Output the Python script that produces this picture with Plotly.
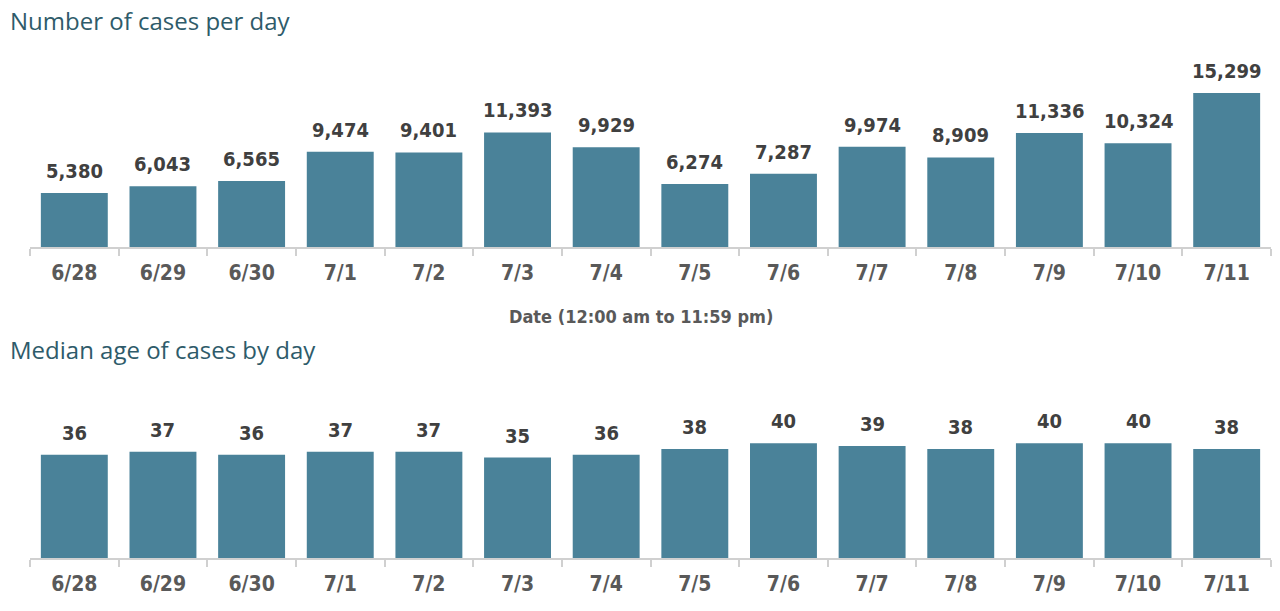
import plotly.graph_objects as go

dates = ["6/28", "6/29", "6/30", "7/1", "7/2", "7/3", "7/4", "7/5", "7/6", "7/7", "7/8", "7/9", "7/10", "7/11"]
cases = [5380, 6043, 6565, 9474, 9401, 11393, 9929, 6274, 7287, 9974, 8909, 11336, 10324, 15299]
median_age = [36, 37, 36, 37, 37, 35, 36, 38, 40, 39, 38, 40, 40, 38]

BAR = "#4A8299"
FONT = "DejaVu Sans Condensed, Roboto, sans-serif"
W, H = 1280, 611

def px_x(v):
    return v / W

def py(v):
    return 1 - v / H

fig = go.Figure()
fig.add_trace(go.Bar(x=dates, y=cases, marker=dict(color=BAR, line=dict(width=0)),
                     xaxis="x", yaxis="y", hoverinfo="skip"))
fig.add_trace(go.Bar(x=dates, y=median_age, marker=dict(color=BAR, line=dict(width=0)),
                     xaxis="x2", yaxis="y2", hoverinfo="skip"))

label_font = dict(family=FONT, size=20, color="#404040", weight="bold")
annotations = []
for d, v in zip(dates, cases):
    annotations.append(dict(x=d, y=v, xref="x", yref="y", text=f"{v:,}", showarrow=False,
                            yanchor="middle", yshift=22, font=label_font))
for d, v in zip(dates, median_age):
    annotations.append(dict(x=d, y=v, xref="x2", yref="y2", text=str(v), showarrow=False,
                            yanchor="middle", yshift=22, font=label_font))

xcommon = dict(
    type="category", domain=[px_x(30), px_x(1271)], showline=True, linecolor="#D0D0D0", linewidth=1.5,
    ticks="outside", tickson="boundaries", ticklen=7, tickcolor="#D0D0D0", tickwidth=1.5,
    tickfont=dict(family=FONT, size=21, color="#595959", weight="bold"),
    ticklabelstandoff=6, showgrid=False, zeroline=False, fixedrange=True)
ycommon = dict(visible=False, showgrid=False, zeroline=False, fixedrange=True)

annotations += [
    dict(text="Number of cases per day", x=px_x(8), y=py(20), xref="paper", yref="paper",
         xanchor="left", yanchor="middle", showarrow=False,
         font=dict(family="Open Sans", size=24, color="#2E5B6A")),
    dict(text="Median age of cases by day", x=px_x(8), y=py(349), xref="paper", yref="paper",
         xanchor="left", yanchor="middle", showarrow=False,
         font=dict(family="Open Sans", size=24, color="#2E5B6A")),
    dict(text="Date (12:00 am to 11:59 pm)", x=px_x(641), y=py(316), xref="paper", yref="paper",
         xanchor="center", yanchor="middle", showarrow=False,
         font=dict(family=FONT, size=18, color="#595959", weight="bold")),
]

fig.update_layout(
    width=W, height=H, margin=dict(l=0, r=0, t=0, b=0),
    paper_bgcolor="white", plot_bgcolor="white", showlegend=False,
    bargap=0.245,
    xaxis=dict(**xcommon, anchor="y"),
    yaxis=dict(**ycommon, domain=[py(247), py(76)], range=[0, 17000]),
    xaxis2=dict(**xcommon, anchor="y2"),
    yaxis2=dict(**ycommon, domain=[py(558), py(414.5)], range=[0, 50]),
    annotations=annotations,
)

fig.write_html("out.html", config={"displayModeBar": False},
               post_script="document.body.style.margin='0px';document.body.style.overflow='hidden';")
